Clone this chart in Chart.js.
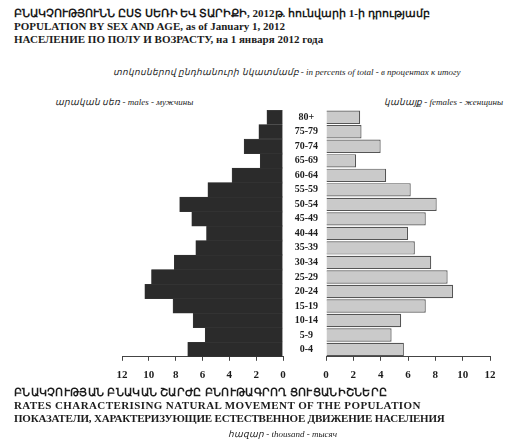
<!DOCTYPE html>
<html>
<head>
<meta charset="utf-8">
<script src="https://cdn.jsdelivr.net/npm/chart.js@4.4.1/dist/chart.umd.min.js"></script>
<style>
  body { margin: 0; background: #fff; width: 519px; height: 446px; position: relative; overflow: hidden; }
  .t { position: absolute; white-space: nowrap; color: #1c1c1c; font-family: "Liberation Serif", serif; }
  .head { font-size: 11px; font-weight: bold; line-height: 13px; }
  .small { font-size: 9px; font-style: italic; }
  .box { position: absolute; }
</style>
</head>
<body>
<div class="t head" style="left:14px; top:7px;">
  ԲՆԱԿՉՈՒԹՅՈՒՆՆ ԸՍՏ ՍԵՌԻ ԵՎ ՏԱՐԻՔԻ, 2012թ. հունվարի 1-ի դրությամբ<br>
  POPULATION BY SEX AND AGE, as of January 1, 2012<br>
  НАСЕЛЕНИЕ ПО ПОЛУ И ВОЗРАСТУ, на 1 января 2012 года
</div>
<div class="t small" style="left:113px; top:67px;">տոկոսներով ընդհանուրի նկատմամբ - in percents of total - в процентах к итогу</div>
<div class="t small" style="left:55px; top:97px;">արական սեռ - males - мужчины</div>
<div class="t small" style="left:384px; top:97px;">կանայք - females - женщины</div>

<div class="box" style="left:0px; top:100px; width:290px; height:290px;"><canvas id="males-chart"></canvas></div>
<div class="box" style="left:283px; top:100px; width:236px; height:290px;"><canvas id="females-chart"></canvas></div>

<div class="t head" style="left:14px; top:386px;">
  <span style="letter-spacing:0.3px">ԲՆԱԿՉՈՒԹՅԱՆ ԲՆԱԿԱՆ ՇԱՐԺԸ ԲՆՈՒԹԱԳՐՈՂ ՑՈՒՑԱՆԻՇՆԵՐԸ</span><br>
  <span style="letter-spacing:0.4px">RATES CHARACTERISING NATURAL MOVEMENT OF THE POPULATION</span><br>
  <span style="letter-spacing:-0.2px">ПОКАЗАТЕЛИ, ХАРАКТЕРИЗУЮЩИЕ ЕСТЕСТВЕННОЕ ДВИЖЕНИЕ НАСЕЛЕНИЯ</span>
</div>
<div class="t small" style="left:228px; top:429px;">հազար - thousand - тысяч</div>

<script>
// age groups, youngest first (y axis is reversed so 80+ ends up on top)
const ageGroups = ['0-4', '5-9', '10-14', '15-19', '20-24', '25-29', '30-34', '35-39', '40-44',
  '45-49', '50-54', '55-59', '60-64', '65-69', '70-74', '75-79', '80+'];
const males = [7.1, 5.8, 6.7, 8.2, 10.3, 9.8, 8.1, 6.5, 5.7, 6.8, 7.7, 5.6, 3.8, 1.7, 2.9, 1.8, 1.2];
const females = [5.7, 4.8, 5.5, 7.3, 9.3, 8.9, 7.7, 6.5, 6.0, 7.3, 8.1, 6.2, 4.4, 2.2, 4.0, 2.6, 2.5];
const xTicks = [0, 2, 4, 6, 8, 10, 12];

const tickFont = { family: 'Liberation Serif', size: 11, weight: 'bold' };

function xAxis(reverse) {
  return {
    min: 0,
    max: 12,
    reverse: reverse,
    afterBuildTicks: function(scale) { scale.ticks = xTicks.map(v => ({ value: v })); },
    grid: { drawOnChartArea: false, drawTicks: true, tickLength: 4, color: '#444' },
    border: { display: true, color: '#444', width: 1 },
    ticks: { color: '#1c1c1c', font: tickFont, padding: 8, maxRotation: 0 }
  };
}

//Males (left side)
const ctx1 = document.getElementById('males-chart').getContext('2d');
const malesChart = new Chart(ctx1, {
  type: 'bar',
  data: {
    labels: ageGroups,
    datasets: [{
      label: 'males',
      data: males,
      backgroundColor: '#2b2b2b',
      borderColor: '#3a3a3a',
      borderWidth: 0.5,
      barPercentage: 1,
      categoryPercentage: 1
    }]
  },
  options: {
    indexAxis: 'y',
    responsive: true,
    maintainAspectRatio: false,
    animation: false,
    layout: { padding: { left: 122, right: 7, top: 10, bottom: 0 } },
    scales: {
      x: xAxis(true),
      y: { reverse: true, display: false }
    },
    plugins: { legend: { display: false }, tooltip: { enabled: false } }
  }
});

//Females (right side), age labels sit in the gap
const ctx2 = document.getElementById('females-chart').getContext('2d');
const femalesChart = new Chart(ctx2, {
  type: 'bar',
  data: {
    labels: ageGroups,
    datasets: [{
      label: 'females',
      data: females,
      backgroundColor: '#cacaca',
      borderColor: '#555',
      borderWidth: 1.2,
      barPercentage: 0.92,
      categoryPercentage: 1
    }]
  },
  options: {
    indexAxis: 'y',
    responsive: true,
    maintainAspectRatio: false,
    animation: false,
    layout: { padding: { left: 0, right: 29, top: 10, bottom: 0 } },
    scales: {
      x: xAxis(false),
      y: {
        reverse: true,
        afterFit: function(scale) { scale.width = 43; },
        grid: { display: false },
        border: { display: false },
        ticks: {
          color: '#1c1c1c',
          font: { family: 'Liberation Serif', size: 10, weight: 'bold' },
          crossAlign: 'center',
          padding: 0,
          autoSkip: false
        }
      }
    },
    plugins: { legend: { display: false }, tooltip: { enabled: false } }
  }
});
</script>
</body>
</html>
